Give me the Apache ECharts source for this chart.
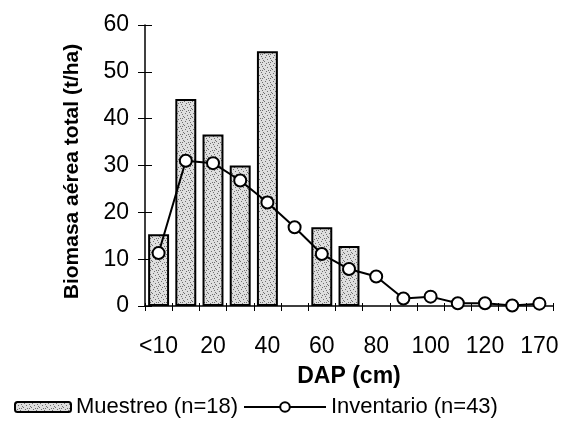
<!DOCTYPE html>
<html>
<head>
<meta charset="utf-8">
<script src="https://cdn.jsdelivr.net/npm/echarts@6/dist/echarts.min.js"></script>
<style>
html,body{margin:0;padding:0;background:#fff;}
#chart{width:562px;height:429px;}
</style>
</head>
<body>
<div id="chart"></div>
<script>
const categories = ['<10','10','20','30','40','50','60','70','80','90','100','110','120','130','170'];
const muestreo = [15.3, 44.2, 36.6, 30.0, 54.4, null, 16.8, 12.8, null, null, null, null, null, null, null];
const inventario = [11.3, 31.0, 30.5, 26.8, 22.1, 16.8, 11.1, 7.9, 6.3, 1.6, 2.0, 0.6, 0.6, 0.1, 0.5];
const yMin = 0, yMax = 60, yStep = 10;
const seriesNames = ['Muestreo (n=18)', 'Inventario (n=43)'];

// stipple texture for bars
const pat = document.createElement('canvas');
pat.width = 8; pat.height = 8;
const ctx = pat.getContext('2d');
ctx.fillStyle = '#dedede';
ctx.fillRect(0, 0, 8, 8);
ctx.fillStyle = '#6e6e6e';
[[1,1],[5,0],[3,3],[7,4],[0,5],[4,6],[6,2],[2,7],[6,6]].forEach(p => ctx.fillRect(p[0], p[1], 1, 1));

const FONT = 'Liberation Sans, Arial, sans-serif';
const chart = echarts.init(document.getElementById('chart'), null, {renderer: 'canvas'});
chart.setOption({
  animation: false,
  backgroundColor: '#fff',
  textStyle: {fontFamily: FONT, color: '#000'},
  grid: {left: 145, right: 9, top: 25, bottom: 123, containLabel: false, outerBoundsMode: 'none'},
  legend: [
    {
      data: [seriesNames[0]], left: 14, top: 396, padding: 0,
      itemWidth: 56, itemHeight: 10,
      textStyle: {fontFamily: FONT, fontSize: 22, color: '#000'}
    },
    {
      data: [seriesNames[1]], left: 243, top: 396, padding: 0,
      itemWidth: 82, itemHeight: 12,
      textStyle: {fontFamily: FONT, fontSize: 22, color: '#000'}
    }
  ],
  xAxis: [
    {
      type: 'category', data: categories, position: 'bottom',
      name: 'DAP (cm)', nameLocation: 'middle', nameGap: 59,
      nameTextStyle: {fontFamily: FONT, fontSize: 23, fontWeight: 'bold', color: '#000'},
      axisLine: {show: true, lineStyle: {color: '#000', width: 1.5}},
      axisTick: {show: true, length: 5, alignWithLabel: false, interval: 0, lineStyle: {color: '#000', width: 1}},
      axisLabel: {interval: 1, margin: 29, fontFamily: FONT, fontSize: 23, color: '#000', hideOverlap: false},
      splitLine: {show: false}
    },
    {
      type: 'category', data: categories, position: 'bottom', offset: 0,
      axisLine: {show: false},
      axisTick: {show: true, inside: true, length: 3, interval: 0, lineStyle: {color: '#000', width: 1}},
      axisLabel: {show: false},
      splitLine: {show: false}
    }
  ],
  yAxis: [
    {
      type: 'value', min: yMin, max: yMax, interval: yStep, position: 'left',
      name: 'Biomasa aérea total (t/ha)', nameLocation: 'middle', nameGap: 62, nameRotate: 90,
      nameTextStyle: {fontFamily: FONT, fontSize: 21, fontWeight: 'bold', color: '#000', padding: [0, 12, 0, 0]},
      axisLine: {show: true, lineStyle: {color: '#000', width: 1.5}},
      axisTick: {show: true, length: 7, lineStyle: {color: '#000', width: 1}},
      axisLabel: {margin: 16, fontFamily: FONT, fontSize: 23, color: '#000'},
      splitLine: {show: false}
    },
    {
      type: 'value', min: yMin, max: yMax, interval: yStep, position: 'left', offset: 0,
      axisLine: {show: false},
      axisTick: {show: true, inside: true, length: 7, lineStyle: {color: '#000', width: 1}},
      axisLabel: {show: false},
      splitLine: {show: false}
    }
  ],
  series: [
    {
      name: seriesNames[0], type: 'bar', data: muestreo,
      barWidth: '77%',
      itemStyle: {color: {image: pat, repeat: 'repeat'}, borderColor: '#000', borderWidth: 2},
      z: 2
    },
    {
      name: seriesNames[1], type: 'line', data: inventario,
      symbol: 'circle', symbolSize: 12,
      lineStyle: {color: '#000', width: 2},
      itemStyle: {color: '#fff', borderColor: '#000', borderWidth: 2},
      z: 5
    }
  ]
});
</script>
</body>
</html>
